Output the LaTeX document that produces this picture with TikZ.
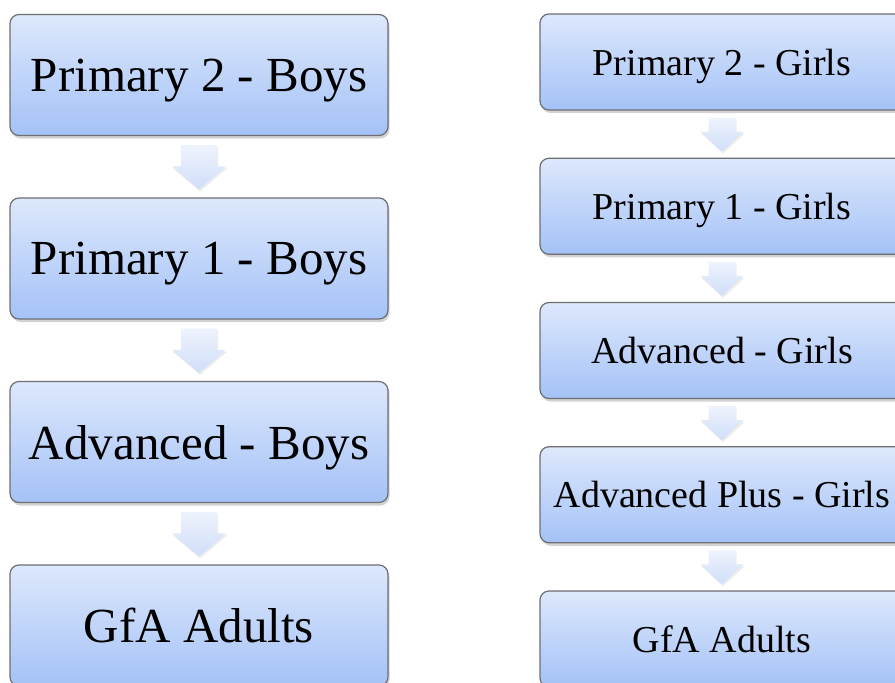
\documentclass[tikz,border=0pt]{standalone}
\usepackage{fontspec}
\setmainfont{Liberation Serif}
\usetikzlibrary{calc,shadows}
\definecolor{boxtop}{RGB}{221,232,252}
\definecolor{boxbot}{RGB}{164,194,247}
\definecolor{boxline}{RGB}{110,110,115}
\definecolor{arrtop}{RGB}{238,243,253}
\definecolor{arrbot}{RGB}{208,222,249}
\tikzset{
  stage/.style={rectangle, rounded corners=9pt, draw=boxline, line width=1.2pt,
    top color=boxtop, bottom color=boxbot, inner sep=0pt, align=center, text depth=0pt,
    drop shadow={opacity=0.35, shadow xshift=1.5pt, shadow yshift=-3pt}},
  bigstage/.style={stage, minimum width=378pt, minimum height=121pt, font=\fontsize{49}{55}\selectfont},
  smallstage/.style={stage, minimum width=364pt, minimum height=96pt, font=\fontsize{38}{44}\selectfont},
  flowarrow/.style={top color=arrtop, bottom color=arrbot, draw=none,
    drop shadow={opacity=0.15, shadow xshift=1pt, shadow yshift=-2pt}}
}
% from, to, gap below source, gap above target, shaft half width, head half width, head length
\newcommand\blockarrow[7]{%
  \path[flowarrow] ($(#1.south)+(-#5,-#3)$) -- ($(#2.north)+(-#5,#4+#7)$)
    -- ($(#2.north)+(-#6,#4+#7)$) -- ($(#2.north)+(0,#4)$)
    -- ($(#2.north)+(#6,#4+#7)$) -- ($(#2.north)+(#5,#4+#7)$)
    -- ($(#1.south)+(#5,-#3)$) -- cycle;}
\begin{document}
\begin{tikzpicture}[x=1pt,y=1pt]
\useasboundingbox (0,0) rectangle (895,-683);
\clip (0,0) rectangle (895,-683);
% left column
\node[bigstage] (b1) at (199,-75) {Primary 2 - Boys};
\node[bigstage] (b2) at (199,-258.5) {Primary 1 - Boys};
\node[bigstage] (b3) at (199,-442) {Advanced - Boys};
\node[bigstage] (b4) at (199,-625.5) {GfA Adults};
\blockarrow{b1}{b2}{9}{8}{18}{27}{23}
\blockarrow{b2}{b3}{9}{8}{18}{27}{23}
\blockarrow{b3}{b4}{9}{8}{18}{27}{23}
% right column
\node[smallstage] (g1) at (722,-62) {Primary 2 - Girls};
\node[smallstage] (g2) at (722,-206.25) {Primary 1 - Girls};
\node[smallstage] (g3) at (722,-350.5) {Advanced - Girls};
\node[smallstage] (g4) at (722,-494.75) {Advanced Plus - Girls};
\node[smallstage] (g5) at (722,-639) {GfA Adults};
\blockarrow{g1}{g2}{7}{6}{13.5}{21.5}{20}
\blockarrow{g2}{g3}{7}{6}{13.5}{21.5}{20}
\blockarrow{g3}{g4}{7}{6}{13.5}{21.5}{20}
\blockarrow{g4}{g5}{7}{6}{13.5}{21.5}{20}
\end{tikzpicture}
\end{document}
